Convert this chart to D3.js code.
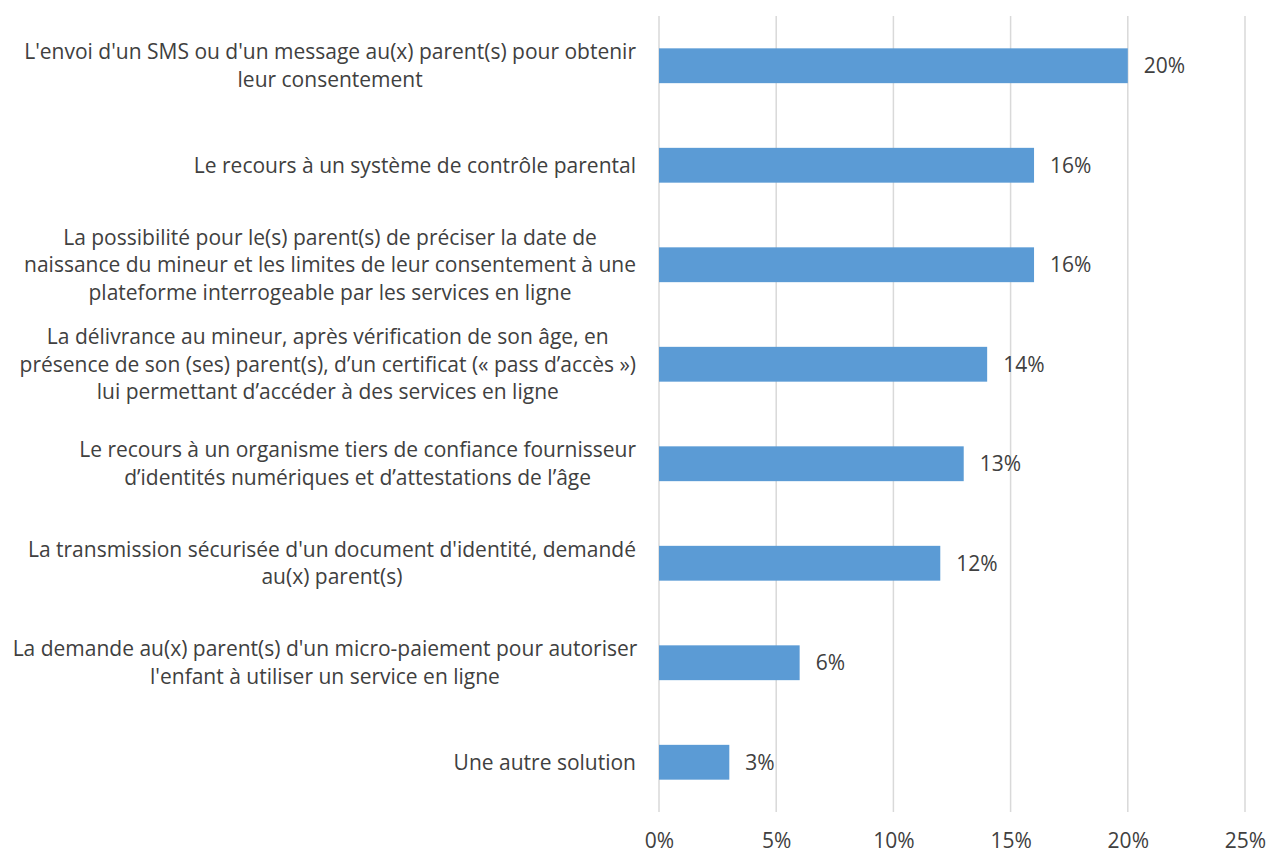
<!DOCTYPE html>
<html>
<head>
<meta charset="utf-8">
<script src="https://cdn.jsdelivr.net/npm/d3@7"></script>
<style>
  html, body { margin: 0; padding: 0; background: #ffffff; }
  svg { display: block; }
  text { font-family: "Open Sans", Lato, sans-serif; fill: #404040; }
</style>
</head>
<body>
<svg id="chart" width="1267" height="853"></svg>
<script>
// Solutions for obtaining parental consent (share of responses)
const categories = [
  ["L'envoi d'un SMS ou d'un message au(x) parent(s) pour obtenir", "leur consentement"],
  ["Le recours à un système de contrôle parental"],
  ["La possibilité pour le(s) parent(s) de préciser la date de", "naissance du mineur et les limites de leur consentement à une", "plateforme interrogeable par les services en ligne"],
  ["La délivrance au mineur, après vérification de son âge, en", "présence de son (ses) parent(s), d’un certificat (« pass d’accès »)", "lui permettant d’accéder à des services en ligne"],
  ["Le recours à un organisme tiers de confiance fournisseur", "d’identités numériques et d’attestations de l’âge"],
  ["La transmission sécurisée d'un document d'identité, demandé", "au(x) parent(s)"],
  ["La demande au(x) parent(s) d'un micro-paiement pour autoriser", "l'enfant à utiliser un service en ligne"],
  ["Une autre solution"]
];
const values = [20, 16, 16, 14, 13, 12, 6, 3];
const tickValues = [0, 5, 10, 15, 20, 25];

const svg = d3.select("#chart");
const fontSize = 21;
const lineHeight = 27.5;

const margin = { left: 659, right: 22, top: 16, bottom: 41 };
const width = 1267;
const height = 853;

const x = d3.scaleLinear()
  .domain([0, 25])
  .range([margin.left, width - margin.right]);

const y = d3.scaleBand()
  .domain(d3.range(categories.length))
  .range([margin.top, height - margin.bottom])
  .paddingInner(0.65)
  .paddingOuter(0.325);

// vertical gridlines
svg.append("g")
  .selectAll("line")
  .data(tickValues)
  .join("line")
  .attr("x1", d => x(d))
  .attr("x2", d => x(d))
  .attr("y1", margin.top)
  .attr("y2", height - margin.bottom)
  .attr("stroke", "#d9d9d9")
  .attr("stroke-width", 1.5);

// x axis tick labels
const xAxis = d3.axisBottom(x)
  .tickValues(tickValues)
  .tickFormat(d => d + "%")
  .tickSize(0)
  .tickPadding(0);
const axisG = svg.append("g")
  .attr("transform", `translate(0, ${height - margin.bottom})`)
  .call(xAxis);
axisG.select(".domain").remove();
axisG.selectAll("text")
  .attr("y", 36)
  .attr("dy", null)
  .style("font-size", fontSize + "px")
  .style("font-family", "'Open Sans', Lato, sans-serif")
  .attr("fill", "#595959");

// bars
svg.append("g")
  .selectAll("rect")
  .data(values)
  .join("rect")
  .attr("x", x(0))
  .attr("y", (d, i) => y(i))
  .attr("width", d => x(d) - x(0))
  .attr("height", y.bandwidth())
  .attr("fill", "#5b9bd5");

// value labels
svg.append("g")
  .selectAll("text")
  .data(values)
  .join("text")
  .attr("x", d => x(d) + 16)
  .attr("y", (d, i) => y(i) + y.bandwidth() / 2)
  .attr("dy", "0.35em")
  .style("font-size", fontSize + "px")
  .text(d => d + "%");

// category labels: each block sits against the axis; very wide blocks
// are centred in the label column and may spill slightly past its edges
const labelRight = 636;
const labelCenterMin = 325;
const labelG = svg.append("g");
categories.forEach((lines, i) => {
  const cy = y(i) + y.bandwidth() / 2;
  const g = labelG.append("g");
  const texts = lines.map((line, j) => g.append("text")
    .style("font-size", fontSize + "px")
    .attr("text-anchor", "middle")
    .attr("y", cy + (j - (lines.length - 1) / 2) * lineHeight)
    .attr("dy", "0.35em")
    .text(line));
  const maxW = d3.max(texts, t => t.node().getComputedTextLength());
  const cx = Math.max(labelCenterMin, labelRight - maxW / 2);
  texts.forEach(t => t.attr("x", cx));
});
</script>
</body>
</html>
